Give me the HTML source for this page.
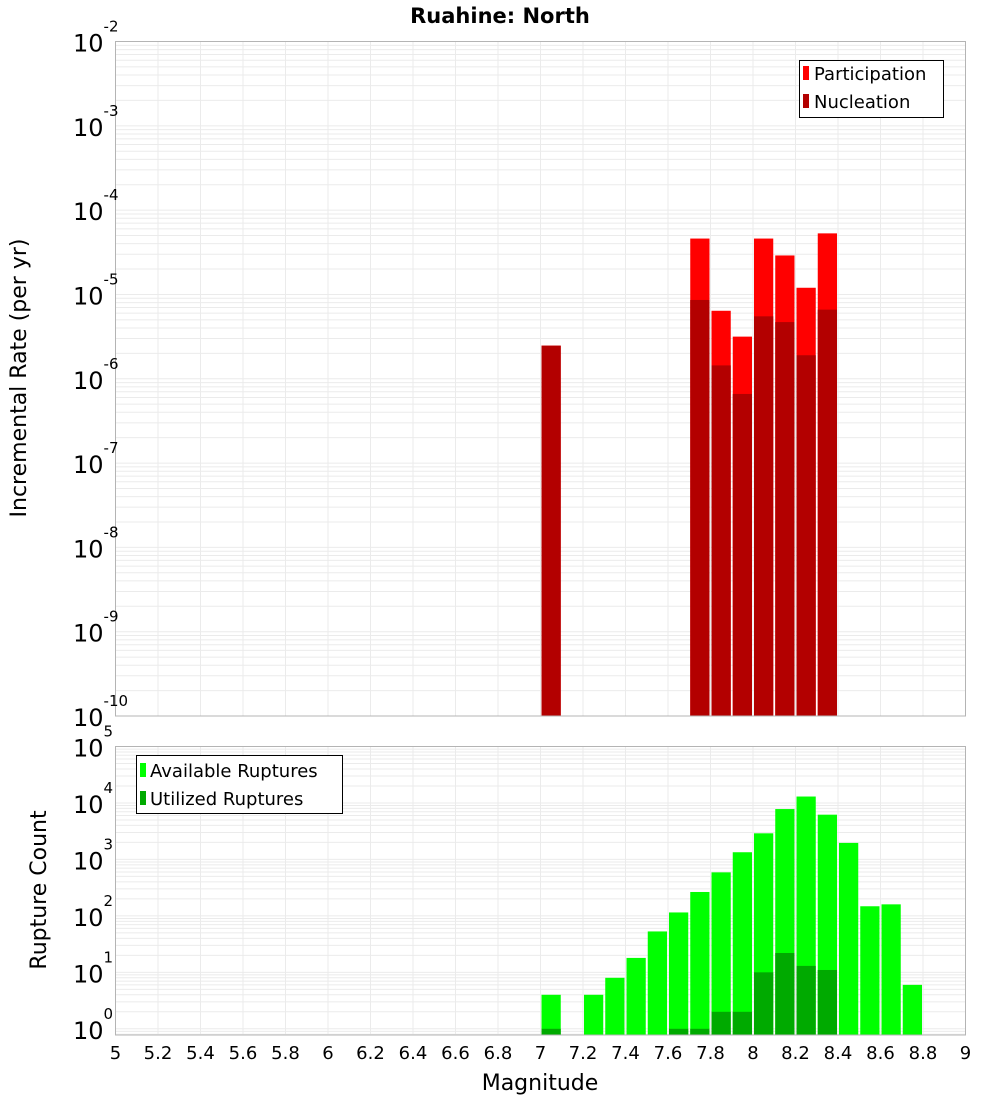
<!DOCTYPE html>
<html><head><meta charset="utf-8"><style>
html,body{margin:0;padding:0;background:#fff}
svg{display:block;font-family:"DejaVu Sans","Liberation Sans",sans-serif}
</style></head><body>
<svg id="chart" width="1000" height="1100" xmlns="http://www.w3.org/2000/svg">
<text x="500" y="23" text-anchor="middle" font-size="21" font-weight="bold">Ruahine: North</text>
<g id="top"></g>
<g id="bot"></g>
<text transform="translate(26,378) rotate(-90)" text-anchor="middle" font-size="22">Incremental Rate (per yr)</text>
<text transform="translate(46,890) rotate(-90)" text-anchor="middle" font-size="22">Rupture Count</text>
<text x="540" y="1090" text-anchor="middle" font-size="22">Magnitude</text>
<g id="leg1">
<rect x="799.5" y="60.5" width="144" height="57" fill="#fff" stroke="#000"/>
<rect x="803" y="66" width="6" height="14" fill="#ff0000"/>
<text x="814" y="80" font-size="18">Participation</text>
<rect x="803" y="94" width="6" height="14" fill="#b30000"/>
<text x="814" y="108" font-size="18">Nucleation</text>
</g>
<g id="leg2">
<rect x="136.5" y="755.5" width="206" height="58" fill="#fff" stroke="#000"/>
<rect x="140" y="763" width="6" height="14" fill="#00ff00"/>
<text x="150" y="777" font-size="18">Available Ruptures</text>
<rect x="140" y="791" width="6" height="14" fill="#00aa00"/>
<text x="150" y="805" font-size="18">Utilized Ruptures</text>
</g>
</svg>
<script>
// Data
const rateBins = [7.0, 7.7, 7.8, 7.9, 8.0, 8.1, 8.2, 8.3];
const participation = [2.47e-6, 4.6e-5, 6.4e-6, 3.16e-6, 4.6e-5, 2.9e-5, 1.2e-5, 5.3e-5];
const nucleation = [2.47e-6, 8.6e-6, 1.44e-6, 6.6e-7, 5.5e-6, 4.7e-6, 1.9e-6, 6.6e-6];
const countBins = [7.0, 7.2, 7.3, 7.4, 7.5, 7.6, 7.7, 7.8, 7.9, 8.0, 8.1, 8.2, 8.3, 8.4, 8.5, 8.6, 8.7];
const available = [4, 4, 8, 18, 53, 115, 265, 590, 1340, 2900, 7800, 13000, 6200, 1960, 148, 160, 6];
const utilized = [1, 0, 0, 0, 0, 1, 1, 2, 2, 10, 22, 13, 11, 0, 0, 0, 0];
const xTicks = [5,5.2,5.4,5.6,5.8,6,6.2,6.4,6.6,6.8,7,7.2,7.4,7.6,7.8,8,8.2,8.4,8.6,8.8,9];
const topExps = [-2,-3,-4,-5,-6,-7,-8,-9,-10];
const botExps = [5,4,3,2,1,0];

const NS='http://www.w3.org/2000/svg';
const L=115.5,R=965.5;
const X=m=>L+(m-5)*(R-L)/4;
function el(p,t,a){const e=document.createElementNS(NS,t);for(const k in a)e.setAttribute(k,a[k]);p.appendChild(e);return e;}
function panel(g,top,bot,lmin,lmax){
  const Y=v=>bot-(Math.log10(v)-lmin)*(bot-top)/(lmax-lmin);
  el(g,'rect',{x:L,y:top,width:R-L,height:bot-top,fill:'#fff'});
  for(let d=Math.floor(lmin);d<lmax;d++)for(let k=1;k<10;k++){const v=k*Math.pow(10,d);const y=Y(v);if(y<top-0.1||y>bot+0.1)continue;
    el(g,'line',{x1:L,x2:R,y1:y,y2:y,stroke:'#ebebeb','stroke-width':1});}
  xTicks.forEach(t=>{const x=X(t);el(g,'line',{x1:x,x2:x,y1:top,y2:bot,stroke:'#ebebeb','stroke-width':1});});
  return Y;
}
function axisBorder(g,top,bot){el(g,'rect',{x:L,y:top,width:R-L,height:bot-top,fill:'none',stroke:'#b4b4b4','stroke-width':1});}
function ylabels(g,Y,exps){exps.forEach(e=>{const y=Y(Math.pow(10,e));
  const t=el(g,'text',{x:73,y:y+10,'font-size':24});
  
  
  t.textContent='10';
  const s=el(t,'tspan',{dy:-20,'font-size':15});s.textContent=String(e);});}
// top
const gt=document.getElementById('top');
const Yt=panel(gt,41.5,716,-10,-2);
rateBins.forEach((m,i)=>{
  const x=X(m)+1,w=X(m+0.1)-X(m)-2;
  let y=Yt(participation[i]);
  const r=el(gt,'rect',{x:x,y:y,width:w,height:716-y,fill:'#ff0000'});
  
  
  y=Yt(nucleation[i]);
  const n=el(gt,'rect',{x:x,y:y,width:w,height:716-y,fill:'#b30000'});
  
  
});
axisBorder(gt,41.5,716);
ylabels(gt,Yt,topExps);
// bottom
const gb=document.getElementById('bot');
const Yb=panel(gb,746.5,1035,-0.11,5);
countBins.forEach((m,i)=>{
  const x=X(m)+1,w=X(m+0.1)-X(m)-2;
  if(available[i]>0){const y=Yb(available[i]);
  const r=el(gb,'rect',{x:x,y:y,width:w,height:1035-y,fill:'#00ff00'});
  
  }
  if(utilized[i]>0){const y=Yb(utilized[i]);
  const u=el(gb,'rect',{x:x,y:y,width:w,height:1035-y,fill:'#00aa00'});
  
  }
});
axisBorder(gb,746.5,1035);
ylabels(gb,Yb,botExps);
xTicks.forEach(t=>{const tx=el(gb,'text',{x:X(t),y:1059,'text-anchor':'middle','font-size':18});
  
  
  tx.textContent=String(t);});
</script>
</body></html>
